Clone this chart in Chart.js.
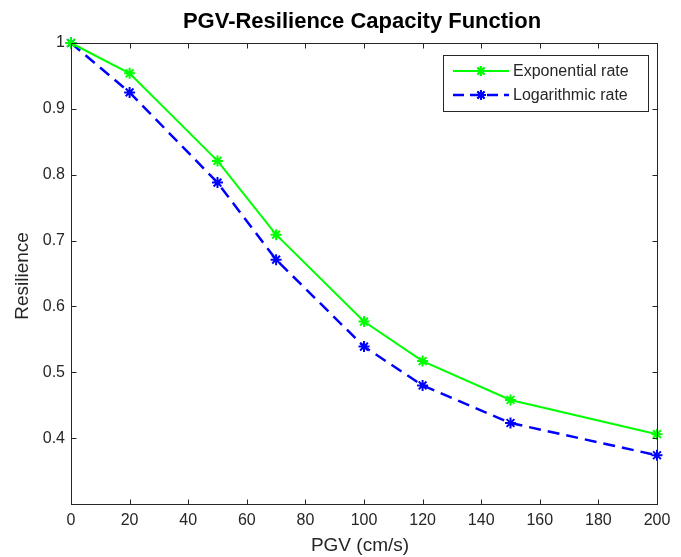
<!DOCTYPE html>
<html>
<head>
<meta charset="utf-8">
<script src="https://cdn.jsdelivr.net/npm/chart.js@4"></script>
<style>
html,body{margin:0;padding:0;background:#fff;}
#wrap{width:681px;height:557px;position:relative;}
</style>
</head>
<body>
<div id="wrap"><canvas id="c" width="681" height="557"></canvas></div>
<script>
const pgv = [0, 20, 50, 70, 100, 120, 150, 200];
const exponentialRate = [1.0, 0.954, 0.821, 0.709, 0.577, 0.517, 0.458, 0.406];
const logarithmicRate = [1.0, 0.925, 0.788, 0.671, 0.539, 0.480, 0.423, 0.374];
const xTicks = [0, 20, 40, 60, 80, 100, 120, 140, 160, 180, 200];
const yTicks = [0.4, 0.5, 0.6, 0.7, 0.8, 0.9, 1];
const seriesNames = ['Exponential rate', 'Logarithmic rate'];
const titleText = 'PGV-Resilience Capacity Function';
const xTitle = 'PGV (cm/s)';
const yTitle = 'Resilience';

const FONT = '"Liberation Sans", Arial, sans-serif';
const AXC = '#262626';

const toPts = (xs, ys) => xs.map((x, i) => ({x: x, y: ys[i]}));

const decor = {
  id: 'decor',
  afterDraw(chart) {
    const ctx = chart.ctx;
    const a = chart.chartArea;
    const xs = chart.scales.x, ys = chart.scales.y;
    ctx.save();
    ctx.strokeStyle = AXC;
    ctx.lineWidth = 1;
    const L = Math.round(a.left) + 0.5, R = Math.round(a.right) + 0.5;
    const T = Math.round(a.top) + 0.5, B = Math.round(a.bottom) + 0.5;
    ctx.strokeRect(L, T, R - L, B - T);
    const tl = 5;
    ctx.beginPath();
    xTicks.forEach(v => {
      const px = Math.round(xs.getPixelForValue(v)) + 0.5;
      ctx.moveTo(px, B); ctx.lineTo(px, B - tl);
      ctx.moveTo(px, T); ctx.lineTo(px, T + tl);
    });
    yTicks.forEach(v => {
      const py = Math.round(ys.getPixelForValue(v)) + 0.5;
      ctx.moveTo(L, py); ctx.lineTo(L + tl, py);
      ctx.moveTo(R, py); ctx.lineTo(R - tl, py);
    });
    ctx.stroke();
    // title
    ctx.fillStyle = '#000';
    ctx.textAlign = 'center';
    ctx.textBaseline = 'alphabetic';
    ctx.font = 'bold 22px ' + FONT;
    ctx.fillText(titleText, 362, 28);
    // x title
    ctx.fillStyle = AXC;
    ctx.font = '19px ' + FONT;
    ctx.fillText(xTitle, 360, 551);
    // y title
    ctx.save();
    ctx.translate(28, 276);
    ctx.rotate(-Math.PI / 2);
    ctx.fillText(yTitle, 0, 0);
    ctx.restore();
    // legend
    const lx = 443.5, ly = 55.5, lw = 205, lh = 56;
    ctx.fillStyle = '#fff';
    ctx.fillRect(lx, ly, lw, lh);
    ctx.strokeStyle = AXC;
    ctx.lineWidth = 1;
    ctx.strokeRect(lx, ly, lw, lh);
    const rows = [
      {y: 71, color: '#00ff00', dash: [], lw: 2, name: seriesNames[0]},
      {y: 95, color: '#0000ff', dash: [11, 6], lw: 2.5, name: seriesNames[1]}
    ];
    rows.forEach(r => {
      ctx.save();
      ctx.strokeStyle = r.color;
      ctx.lineWidth = r.lw;
      ctx.setLineDash(r.dash);
      ctx.beginPath();
      ctx.moveTo(453, r.y); ctx.lineTo(509, r.y);
      ctx.stroke();
      ctx.restore();
      ctx.save();
      ctx.strokeStyle = r.color; ctx.lineWidth = 2; ctx.fillStyle = r.color;
      Chart.helpers.drawPoint(ctx, {pointStyle: 'star', radius: 5, rotation: 0, borderWidth: 2}, 481, r.y);
      ctx.stroke();
      ctx.restore();
      ctx.fillStyle = AXC;
      ctx.textAlign = 'left';
      ctx.textBaseline = 'middle';
      ctx.font = '16px ' + FONT;
      ctx.fillText(r.name, 513, r.y + 1);
    });
    ctx.restore();
  }
};

new Chart(document.getElementById('c'), {
  type: 'line',
  data: {
    datasets: [
      {
        label: seriesNames[0],
        data: toPts(pgv, exponentialRate),
        borderColor: '#00ff00',
        backgroundColor: '#00ff00',
        borderWidth: 2,
        pointStyle: 'star',
        pointRadius: 5.5,
        pointBorderWidth: 2,
        pointBorderColor: '#00ff00',
        tension: 0,
        fill: false,
        clip: false
      },
      {
        label: seriesNames[1],
        data: toPts(pgv, logarithmicRate),
        borderColor: '#0000ff',
        backgroundColor: '#0000ff',
        borderWidth: 2.5,
        borderDash: [12, 7],
        pointStyle: 'star',
        pointRadius: 5.5,
        pointBorderWidth: 2,
        pointBorderColor: '#0000ff',
        tension: 0,
        fill: false,
        clip: false
      }
    ]
  },
  options: {
    responsive: false,
    animation: false,
    devicePixelRatio: 1,
    layout: {padding: {top: 43, right: 24, left: 0, bottom: 0}},
    plugins: {legend: {display: false}, title: {display: false}, tooltip: {enabled: false}},
    scales: {
      x: {
        type: 'linear',
        min: 0, max: 200,
        afterFit(s) { s.height = 53; },
        afterBuildTicks(s) { s.ticks = xTicks.map(v => ({value: v})); },
        grid: {display: false, drawTicks: false},
        border: {display: false},
        ticks: {color: AXC, font: {family: FONT, size: 16}, padding: 7, maxRotation: 0, autoSkip: false}
      },
      y: {
        type: 'linear',
        min: 0.3, max: 1,
        afterFit(s) { s.width = 71; },
        afterBuildTicks(s) { s.ticks = yTicks.map(v => ({value: v})); },
        grid: {display: false, drawTicks: false},
        border: {display: false},
        ticks: {color: AXC, font: {family: FONT, size: 16}, padding: 6, autoSkip: false,
          callback: v => String(Math.round(v * 10) / 10)}
      }
    }
  },
  plugins: [decor]
});
</script>
</body>
</html>
